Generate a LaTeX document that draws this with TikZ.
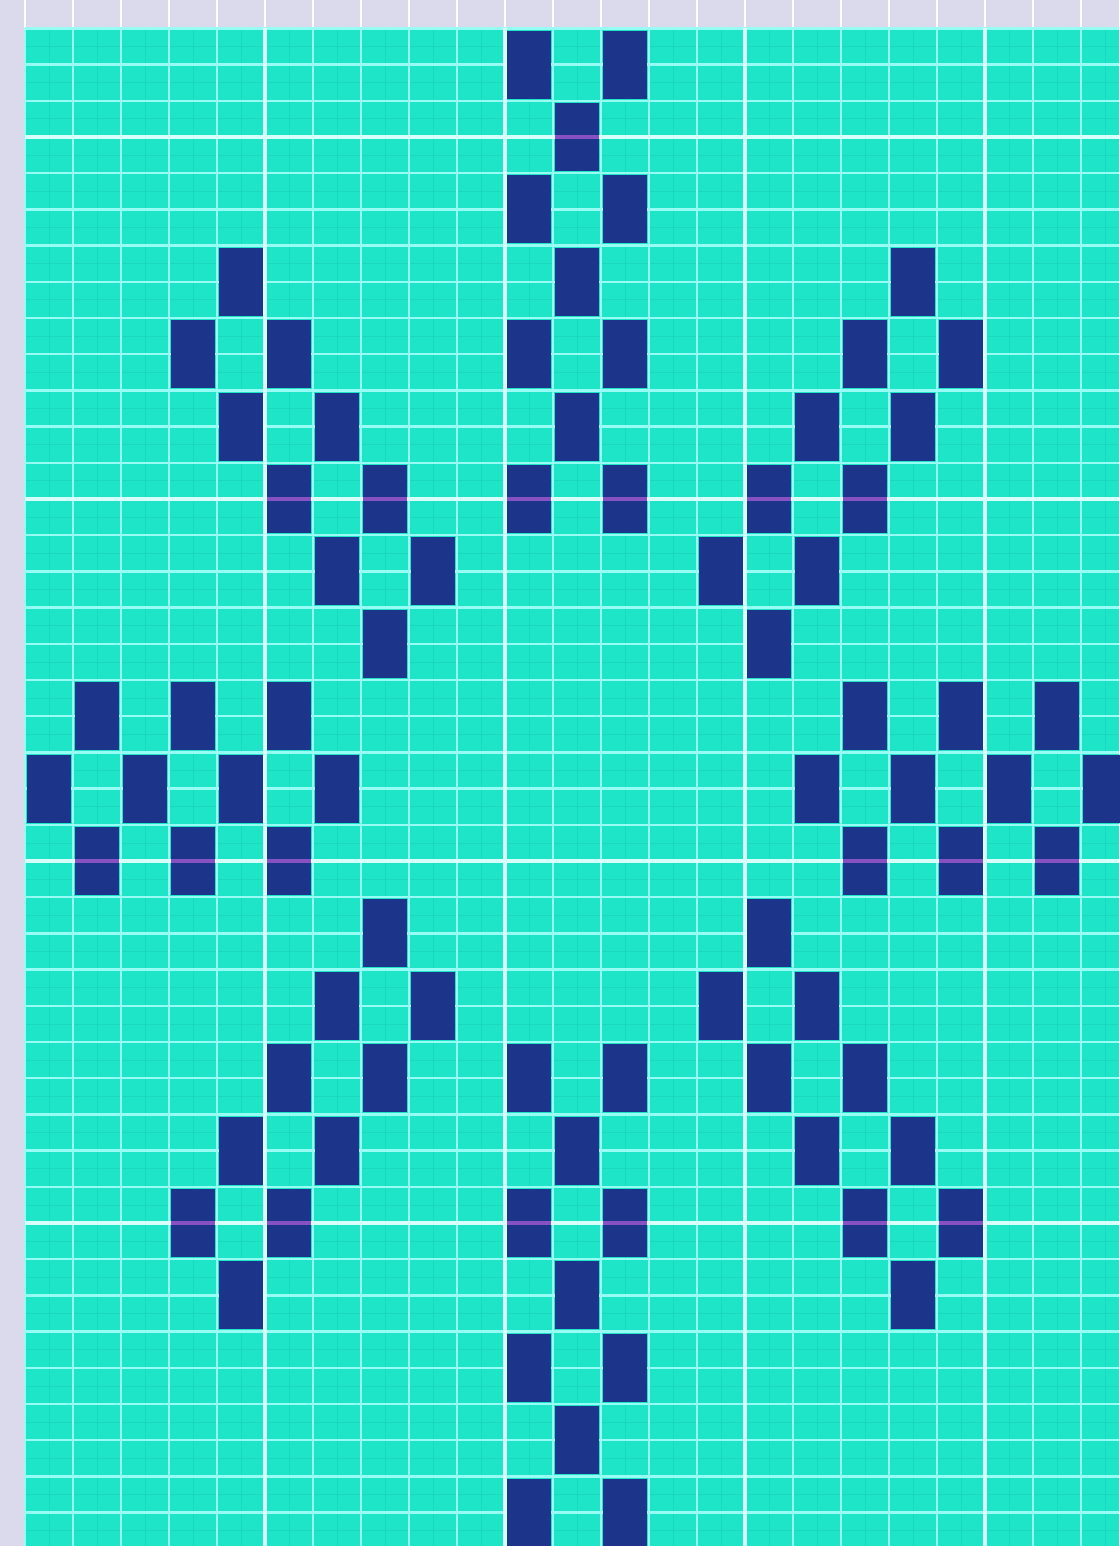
\documentclass[tikz,border=0pt]{standalone}
\usepackage{tikz}
\definecolor{chartpaper}{RGB}{218,218,236}
\definecolor{chartcyan}{RGB}{30,228,200}
\definecolor{chartline}{RGB}{150,252,244}
\definecolor{chartmajor}{RGB}{215,255,252}
\definecolor{chartnavy}{RGB}{28,52,138}
\definecolor{chartpink}{RGB}{135,80,195}
\tikzset{
    paper/.style={fill=chartpaper},
    ground/.style={fill=chartcyan},
    paperline/.style={draw=white, line width=0.9pt},
    fineline/.style={draw=chartcyan!75!black, line width=0.4pt, opacity=0.2},
    minorline/.style={draw=chartline, line width=1.2pt},
    majorline/.style={draw=chartmajor, line width=2.2pt},
    crossline/.style={draw=chartpink, line width=1.8pt},
    stitch/.style={fill=chartnavy},
}

\begin{document}
\begin{tikzpicture}[x=24pt, y=-18.1pt]
        % Paper and chart ground
        \fill[paper] (-0.5208,-0.7845) rectangle (22.7917,41.9227);
        \useasboundingbox (-0.5208,-0.7845) rectangle (22.7917,41.9227);
        \foreach \c in {0,...,22} \draw[paperline] (\c,-0.7845) -- (\c,0);
        \fill[ground] (0,0) rectangle (22.7917,41.9227);

        % Grid lines
        \foreach \c in {0,...,22} \draw[fineline] (\c+0.5,0) -- (\c+0.5,41.9227);
        \foreach \r in {0,...,41} \draw[fineline] (0,\r+0.5) -- (22.7917,\r+0.5);
        \foreach \c in {0,...,22} \draw[minorline] (\c,0) -- (\c,41.9227);
        \foreach \r in {0,...,41} \draw[minorline] (0,\r) -- (22.7917,\r);
        \foreach \c in {5,10,15,20} \draw[majorline] (\c,0) -- (\c,41.9227);
        \foreach \r in {3,13,23,33} \draw[majorline] (0,\r) -- (22.7917,\r);

        % Motifs
        \foreach \c/\r in {4/6, 3/8, 5/8, 4/10, 6/10, 5/12, 7/12, 6/14, 8/14, 7/16,
                           10/0, 12/0, 11/2, 10/4, 12/4, 11/6, 10/8, 12/8, 11/10, 10/12, 12/12,
                           18/6, 17/8, 19/8, 16/10, 18/10, 15/12, 17/12, 14/14, 16/14, 15/16,
                           1/18, 3/18, 5/18, 0/20, 2/20, 4/20, 6/20, 1/22, 3/22, 5/22,
                           17/18, 19/18, 21/18, 16/20, 18/20, 20/20, 22/20, 17/22, 19/22, 21/22,
                           7/24, 6/26, 8/26, 5/28, 7/28, 4/30, 6/30, 3/32, 5/32, 4/34,
                           10/28, 12/28, 11/30, 10/32, 12/32, 11/34, 10/36, 12/36, 11/38, 10/40, 12/40,
                           15/24, 14/26, 16/26, 15/28, 17/28, 16/30, 18/30, 17/32, 19/32, 18/34}
            \fill[stitch] (\c+0.05,\r+0.06) rectangle (\c+0.95,\r+1.94);

        % Major rows over the motifs
        \foreach \c/\r in {11/2, 5/12, 7/12, 10/12, 12/12, 15/12, 17/12,
                           1/22, 3/22, 5/22, 17/22, 19/22, 21/22,
                           3/32, 5/32, 10/32, 12/32, 17/32, 19/32}
            \draw[crossline] (\c+0.05,\r+1) -- (\c+0.95,\r+1);
\end{tikzpicture}
\end{document}
